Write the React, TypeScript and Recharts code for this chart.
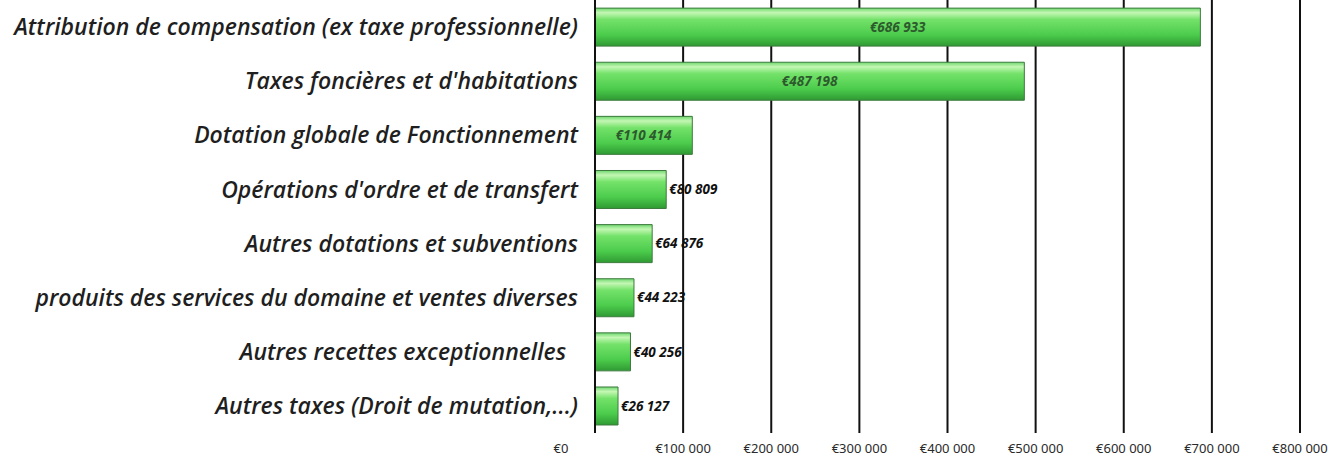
import React from 'react';
import { BarChart, Bar, XAxis, YAxis, CartesianGrid, LabelList } from 'recharts';

const categories = [
  'Attribution de compensation (ex taxe professionnelle)',
  "Taxes foncières et d'habitations",
  'Dotation globale de Fonctionnement',
  "Opérations d'ordre et de transfert",
  'Autres dotations et subventions',
  'produits des services du domaine et ventes diverses',
  'Autres recettes exceptionnelles\u00A0\u00A0',
  'Autres taxes (Droit de mutation,...)',
];
const values = [686933, 487198, 110414, 80809, 64876, 44223, 40256, 26127];
const xTicks = [0, 100000, 200000, 300000, 400000, 500000, 600000, 700000, 800000];

const data = categories.map((c, i) => ({ name: c, value: values[i] }));

const fmt = (v: number) => String(v).replace(/\B(?=(\d{3})+(?!\d))/g, ' ');

const ValueLabel = (props: any) => {
  const { x, y, width, height, value } = props;
  const inside = value > 100000;
  const tx = inside ? x + width / 2 : x + width + 3;
  return (
    <text
      x={tx}
      y={y + height / 2}
      dy="0.35em"
      textAnchor={inside ? 'middle' : 'start'}
      fontFamily="'Noto Sans', sans-serif"
      fontStyle="italic"
      fontWeight="bold"
      fontSize={13.5}
      fill={inside ? '#2d5a2d' : '#111'}
    >
      {'€' + fmt(value)}
    </text>
  );
};

const XTick = (props: any) => {
  const { x, y, payload } = props;
  const shift = payload.value === 0 ? -34 : 0;
  return (
    <text
      x={x + shift}
      y={y}
      dy="0.71em"
      textAnchor="middle"
      fontSize={13}
      fill="#2a2a2a"
      fontFamily="'Liberation Sans Narrow', 'Noto Sans', sans-serif"
    >
      {'€' + fmt(payload.value)}
    </text>
  );
};

export default function App() {
  return (
    <div style={{ position: 'absolute', left: 0, top: 0, background: '#fff' }}>
      <BarChart
        width={1332}
        height={466}
        data={data}
        layout="vertical"
        margin={{ top: 0, right: 32, bottom: 0, left: 0 }}
        barCategoryGap="15%"
      >
        <defs>
          <linearGradient id="greenGloss" x1="0" y1="0" x2="0" y2="1">
            <stop offset="0%" stopColor="#6fd86f" />
            <stop offset="12%" stopColor="#c4f7b4" />
            <stop offset="30%" stopColor="#74e26a" />
            <stop offset="70%" stopColor="#4ccc4c" />
            <stop offset="100%" stopColor="#2f9a33" />
          </linearGradient>
        </defs>
        <CartesianGrid horizontal={false} vertical={true} stroke="#111" strokeWidth={2} />
        <XAxis
          type="number"
          domain={[0, 800000]}
          ticks={xTicks}
          height={33}
          axisLine={false}
          tickLine={false}
          tickSize={0}
          tickMargin={11}
          tick={<XTick />}
          interval={0}
        />
        <YAxis
          type="category"
          dataKey="name"
          width={595}
          axisLine={{ stroke: '#111', strokeWidth: 2 }}
          tickLine={false}
          tickSize={0}
          tickMargin={17}
          interval={0}
          tick={{ fontSize: 23, fill: '#1f1f1f', fontStyle: 'italic', fontWeight: 600, fontFamily: "'Open Sans', 'Noto Sans', sans-serif" }}
        />
        <Bar dataKey="value" fill="url(#greenGloss)" stroke="#3d7a3d" strokeWidth={1} isAnimationActive={false}>
          <LabelList dataKey="value" content={ValueLabel} />
        </Bar>
      </BarChart>
    </div>
  );
}
